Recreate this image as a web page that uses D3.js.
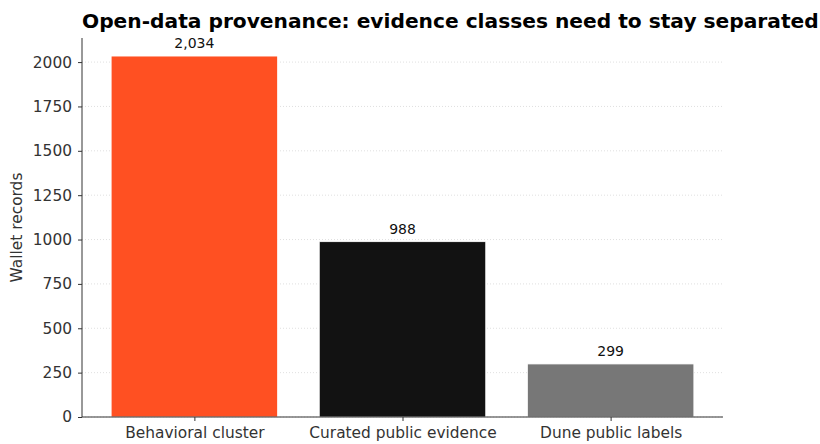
<!DOCTYPE html>
<html>
<head>
<meta charset="utf-8">
<script src="https://cdn.jsdelivr.net/npm/d3@7"></script>
<style>
  body { margin: 0; background: #fff; }
  text { font-family: "DejaVu Sans", sans-serif; }
</style>
</head>
<body>
<div id="chart"></div>
<script>
// Data
const categories = ['Behavioral cluster', 'Curated public evidence', 'Dune public labels'];
const records = [2034, 988, 299];
const barColors = ['#ff5022', '#121212', '#777777'];
const yTicks = [0, 250, 500, 750, 1000, 1250, 1500, 1750, 2000];

const W = 820;
const H = 444;
const margin = { top: 38, right: 97, bottom: 27, left: 82 };
const width = W - margin.left - margin.right;
const height = H - margin.top - margin.bottom;

const svg = d3.select('#chart')
  .append('svg')
  .attr('width', W)
  .attr('height', H);

const g = svg.append('g')
  .attr('transform', `translate(${margin.left},${margin.top})`);

// scales (matplotlib-like: bars 0.8 wide, 5% margins)
const x = d3.scaleLinear()
  .domain([-0.54, categories.length - 1 + 0.54])
  .range([0, width]);
const y = d3.scaleLinear()
  .domain([0, d3.max(records) * 1.05])
  .range([height, 0]);

// grid
g.append('g')
  .selectAll('line')
  .data(yTicks)
  .join('line')
  .attr('x1', 0)
  .attr('x2', width)
  .attr('y1', (d) => y(d))
  .attr('y2', (d) => y(d))
  .attr('stroke', '#d8d8d8')
  .attr('stroke-width', 0.8)
  .attr('stroke-dasharray', '1,2');

// bars
g.append('g')
  .selectAll('rect')
  .data(records)
  .join('rect')
  .attr('x', (d, i) => x(i - 0.4))
  .attr('width', (d, i) => x(i + 0.4) - x(i - 0.4))
  .attr('y', (d) => y(d))
  .attr('height', (d) => y(0) - y(d))
  .attr('fill', (d, i) => barColors[i])
  .attr('stroke', '#fff')
  .attr('stroke-width', 0.8);

// value labels
g.append('g')
  .selectAll('text')
  .data(records)
  .join('text')
  .attr('x', (d, i) => x(i))
  .attr('y', (d) => y(d) - 8)
  .attr('text-anchor', 'middle')
  .attr('font-size', 14)
  .attr('fill', '#111')
  .text((d) => d3.format(',')(d));

// x-axis
const xAxis = g.append('g')
  .attr('transform', `translate(0,${height})`)
  .call(d3.axisBottom(x)
    .tickValues(d3.range(categories.length))
    .tickFormat((d) => categories[d])
    .tickSize(4)
    .tickPadding(6));
xAxis.select('.domain').attr('d', `M0,0H${width}`);

// y-axis
const yAxis = g.append('g')
  .call(d3.axisLeft(y)
    .tickValues(yTicks)
    .tickFormat(d3.format('d'))
    .tickSize(4)
    .tickPadding(6));
yAxis.select('.domain').attr('d', `M0,0V${height}`);

[xAxis, yAxis].forEach((ax) => {
  ax.attr('font-size', 15.4);
  ax.select('.domain').attr('stroke', '#333').attr('stroke-width', 1);
  ax.selectAll('.tick line').attr('stroke', '#333');
  ax.selectAll('.tick text')
    .attr('fill', '#333')
    .style('font-family', '"DejaVu Sans", sans-serif');
});

// y label
svg.append('text')
  .attr('transform', `translate(22,${margin.top + height / 2}) rotate(-90)`)
  .attr('text-anchor', 'middle')
  .attr('font-size', 15.4)
  .attr('fill', '#333')
  .text('Wallet records');

// title
svg.append('text')
  .attr('x', margin.left)
  .attr('y', 28)
  .attr('font-size', 20.2)
  .attr('font-weight', 'bold')
  .attr('fill', '#000')
  .text('Open-data provenance: evidence classes need to stay separated');
</script>
</body>
</html>
